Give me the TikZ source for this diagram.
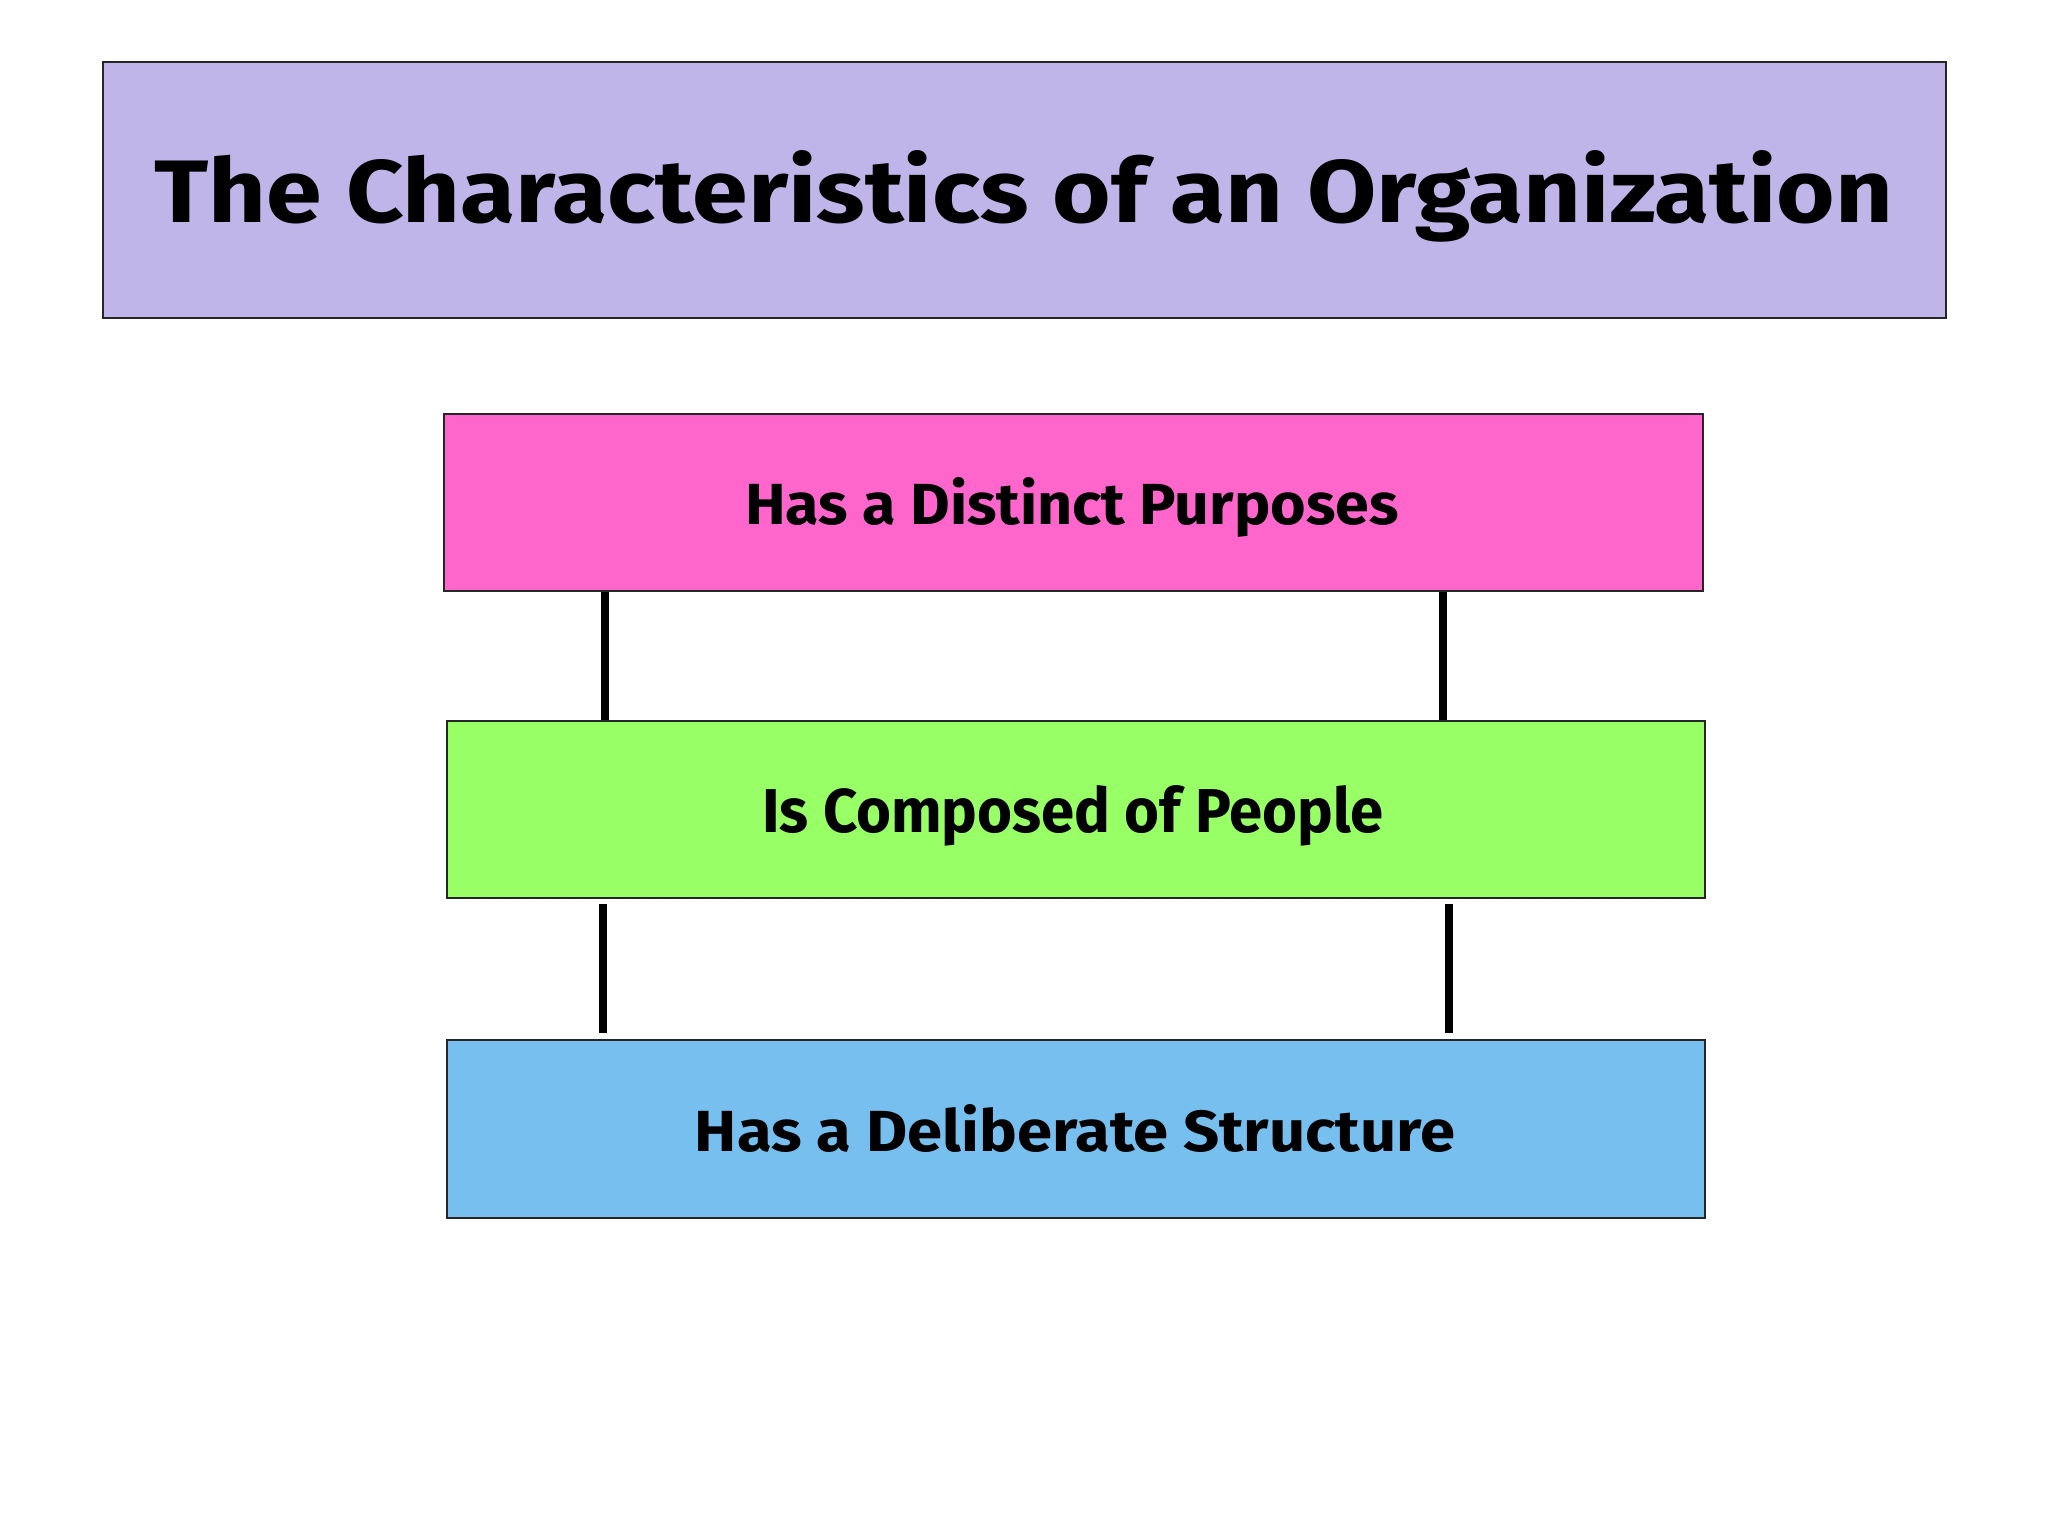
\documentclass[tikz,border=0pt]{standalone}
\usepackage{fontspec}
\setmainfont{Fira Sans}
\usepackage{graphicx}
\definecolor{titlefill}{HTML}{BFB5E8}
\definecolor{pinkfill}{HTML}{FF66CC}
\definecolor{greenfill}{HTML}{99FF66}
\definecolor{bluefill}{HTML}{77BFEF}
\begin{document}
\begin{tikzpicture}[x=1pt,y=-1pt,
  panel/.style={draw=black!85, line width=2pt, inner sep=0pt, anchor=north west},
  lbl/.style={inner sep=0pt, anchor=base, font=\bfseries},
  link/.style={line width=8pt, black}]
\useasboundingbox (0,0) rectangle (2048,1536);
\fill[white] (0,0) rectangle (2048,1536);
% boxes
\node[panel, fill=titlefill, minimum width=1843pt, minimum height=256pt] (title) at (102,61) {};
\node[panel, fill=pinkfill, minimum width=1259pt, minimum height=177pt] (b1) at (443,413) {};
\node[panel, fill=greenfill, minimum width=1258pt, minimum height=177pt] (b2) at (446,720) {};
\node[panel, fill=bluefill, minimum width=1258pt, minimum height=178pt] (b3) at (446,1039) {};
% texts
\node[lbl] (titletext) at (1024,222) {\resizebox{1738pt}{72pt}{The Characteristics of an Organization}};
\node[lbl] (t1) at (1072,524) {\resizebox{653pt}{47pt}{Has a Distinct Purposes}};
\node[lbl] (t2) at (1073,832) {\resizebox{621pt}{47pt}{Is Composed of People}};
\node[lbl] (t3) at (1075,1151) {\resizebox{760pt}{47pt}{Has a Deliberate Structure}};
% connectors
\coordinate (c1a) at (605,720);
\coordinate (c1b) at (1443,720);
\coordinate (c2a) at (603,904);
\coordinate (c2b) at (1449,904);
\coordinate (c3a) at (603,1033);
\coordinate (c3b) at (1449,1033);
\draw[link] (b1.south -| c1a) -- (c1a);
\draw[link] (b1.south -| c1b) -- (c1b);
\draw[link] (c2a) -- (c3a);
\draw[link] (c2b) -- (c3b);
\end{tikzpicture}
\end{document}
